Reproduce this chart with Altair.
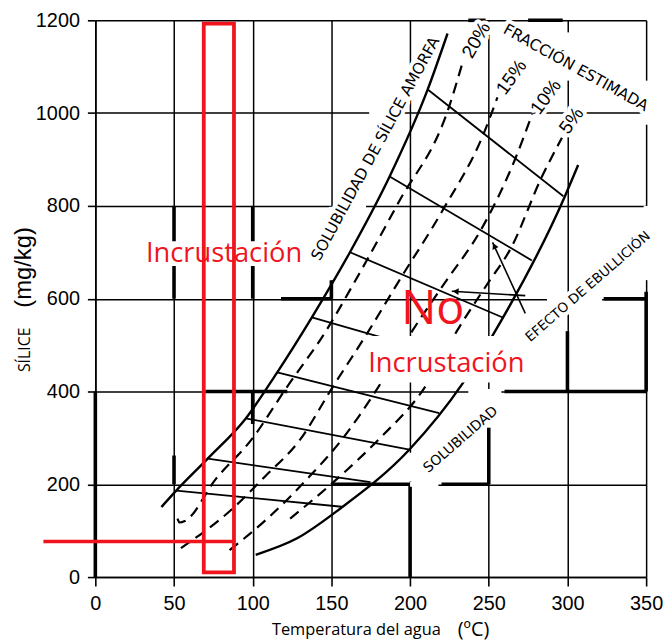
import altair as alt
import pandas as pd

# ---------------- data ----------------
X_TICKS = [0, 50, 100, 150, 200, 250, 300, 350]
Y_TICKS = [0, 200, 400, 600, 800, 1000, 1200]

# solubilidad de sílice amorfa (solid)
AMORPH_T = [42.0, 51.4, 71.4, 95.6, 115.6, 137.6, 161.8, 187.0, 211.2, 223.8]
AMORPH_S = [151.0, 186.3, 255.2, 342.0, 441.4, 559.9, 700.2, 863.3, 1051.0, 1171.6]

# solubilidad (cuarzo) (solid)
QUARTZ_T = [101.9, 128.2, 155.5, 199.6, 233.3, 252.2, 298.4, 306.8]
QUARTZ_S = [48.1, 83.6, 147.4, 274.9, 416.8, 519.5, 820.8, 888.0]

# fracción estimada (dashed)
F20_T = [52.2, 53.5, 56.9, 76.5, 99.2, 121.2, 146.5, 164.8, 192.5, 224.7, 233.0]
F20_S = [126.1, 117.6, 120.8, 211.1, 296.2, 406.8, 530.1, 636.4, 806.5, 1012.8, 1105.0]
F15_T = [54.4, 87.2, 108.0, 130.1, 150.3, 173.6, 192.6, 220.9, 246.7, 255.5]
F15_S = [62.3, 147.4, 217.5, 296.2, 406.8, 530.1, 636.4, 791.6, 955.4, 1034.0]
F10_T = [85.3, 109.3, 134.5, 156.6, 179.3, 201.3, 222.5, 244.8, 266.9, 277.6]
F10_S = [58.0, 126.1, 211.1, 296.2, 406.8, 530.1, 636.4, 747.0, 902.2, 997.9]
F5_T = [123.8, 153.4, 179.9, 208.9, 229.7, 250.0, 263.7, 283.9, 296.5]
F5_S = [126.1, 211.1, 296.2, 406.8, 530.1, 636.4, 706.6, 863.9, 946.8]

# connecting lines (from amorphous curve down to quartz curve)
CON_T0 = [51.4, 71.4, 95.6, 115.6, 137.6, 161.8, 187.0, 211.2]
CON_S0 = [186.3, 255.2, 342.0, 441.4, 559.9, 700.2, 863.3, 1051.0]
CON_T1 = [156.6, 174.8, 199.6, 218.5, 241.0, 258.5, 277.4, 297.4]
CON_S1 = [151.6, 204.8, 274.9, 353.6, 458.9, 559.9, 682.5, 820.8]

# efecto de ebullición arrows
ARR_T0 = [273.2, 273.2]
ARR_S0 = [568.4, 606.6]
ARR_T1 = [252.4, 226.5]
ARR_S1 = [721.5, 616.2]
ARR_HEAD_T = [253.5, 229.0]
ARR_HEAD_S = [713.8, 615.7]
ARR_HEAD_ANG = [335, 274]

# irregular grid of the scan: thick pieces and missing pieces
THICK_V_T = [0, 50, 50, 100, 100, 150, 200, 250, 300, 350]
THICK_V_S0 = [0, 600, 200, 600, 330, 600, 0, 200, 400, 400]
THICK_V_S1 = [400, 800, 262, 800, 400, 640, 200, 330, 530, 615]
THICK_H_S = [600, 600, 400, 400, 200, 200, 1200, 1200]
THICK_H_T0 = [118, 323, 70, 260, 150, 220, 237, 275]
THICK_H_T1 = [150, 350, 122, 350, 200, 250, 248, 297]
GAP_V_T = [150, 200, 250, 300, 350, 350]
GAP_V_S0 = [640, 206, 322, 1070, 975, 640]
GAP_V_S1 = [798, 268, 400, 1174, 1070, 800]
GAP_H_S = [800, 1000, 600, 400, 200]
GAP_H_T0 = [151, 174, 287, 237, 200]
GAP_H_T1 = [172, 196, 322, 258, 218]

# red annotations
RED_BOX_T = [68.9, 88.1]
RED_BOX_S = [10.2, 1192.9]
RED_LINE_S = 76.5
RED_LINE_T = [-33.0, 88.1]

RED = "#f0141e"

# ---------------- scales / axes ----------------
xs = alt.Scale(domain=[0, 350], nice=False, zero=False)
ys = alt.Scale(domain=[0, 1200], nice=False, zero=False)
common_axis = dict(grid=True, gridColor="black", gridWidth=1.5, gridOpacity=1,
                   domainColor="black", domainWidth=1.6, tickColor="black", tickWidth=1.6,
                   labelFont="Liberation Sans", labelFontSize=20, labelColor="black",
                   labelOverlap=False, title=None, format="d")
xax = alt.Axis(values=X_TICKS, tickSize=9, labelPadding=8, labelFlush=False, **common_axis)
yax = alt.Axis(values=Y_TICKS, tickSize=8, labelPadding=8, **common_axis)


def X(f):
    return alt.X(f, type="quantitative", scale=xs, axis=xax)


def Y(f):
    return alt.Y(f, type="quantitative", scale=ys, axis=yax)


layers = []

# thick grid pieces
thick_v = pd.DataFrame({"t": THICK_V_T, "s0": THICK_V_S0, "s1": THICK_V_S1})
layers.append(alt.Chart(thick_v).mark_rule(color="black", strokeWidth=3.6).encode(
    x=X("t"), y=Y("s0"), y2=alt.Y2("s1")))
thick_h = pd.DataFrame({"s": THICK_H_S, "t0": THICK_H_T0, "t1": THICK_H_T1})
layers.append(alt.Chart(thick_h).mark_rule(color="black", strokeWidth=3.6).encode(
    y=Y("s"), x=X("t0"), x2=alt.X2("t1")))

# missing grid pieces
gap_v = pd.DataFrame({"t": GAP_V_T, "s0": GAP_V_S0, "s1": GAP_V_S1})
layers.append(alt.Chart(gap_v).mark_rule(color="white", strokeWidth=5).encode(
    x=X("t"), y=Y("s0"), y2=alt.Y2("s1")))
gap_h = pd.DataFrame({"s": GAP_H_S, "t0": GAP_H_T0, "t1": GAP_H_T1})
layers.append(alt.Chart(gap_h).mark_rule(color="white", strokeWidth=5).encode(
    y=Y("s"), x=X("t0"), x2=alt.X2("t1")))

# labels
captions = pd.DataFrame({
    "label": ["SOLUBILIDAD DE SÍLICE AMORFA", "FRACCIÓN ESTIMADA", "EFECTO DE EBULLICIÓN", "SOLUBILIDAD"],
    "t": [178.0, 305.4, 313.1, 232.2],
    "s": [923.5, 1097.8, 625.8, 296.2],
    "ang": [298.5, 29, 319, 319],
    "size": [15.5, 15.5, 13.5, 14],
})
pcts = pd.DataFrame({
    "label": ["20%", "15%", "10%", "5%"],
    "t": [242.1, 264.4, 286.3, 302.6],
    "s": [1157.3, 1077.2, 1034.8, 983.6],
    "ang": [300, 306, 306, 306],
    "size": [19, 19, 19, 19],
})


def label_layer(df, font, halo):
    props = dict(font=font, align="center", baseline="middle")
    if halo:
        props.update(stroke="white", strokeWidth=8, strokeJoin="round", fill="white")
    else:
        props.update(fill="black")
    return alt.Chart(df).mark_text(**props).encode(
        x=X("t"), y=Y("s"), text="label:N",
        angle=alt.Angle("ang:Q", scale=None), size=alt.Size("size:Q", scale=None))


layers.append(label_layer(captions, "DejaVu Sans", True))
layers.append(label_layer(pcts, "Liberation Sans", True))

# curves
amorph = pd.DataFrame({"t": AMORPH_T, "s": AMORPH_S})
layers.append(alt.Chart(amorph).mark_line(color="black", strokeWidth=2.4, interpolate="monotone").encode(
    x=X("t"), y=Y("s")))
quartz = pd.DataFrame({"t": QUARTZ_T, "s": QUARTZ_S})
layers.append(alt.Chart(quartz).mark_line(color="black", strokeWidth=2.4, interpolate="monotone").encode(
    x=X("t"), y=Y("s")))

dashed_rows = []
for name, tt, ss in [("20%", F20_T, F20_S), ("15%", F15_T, F15_S), ("10%", F10_T, F10_S), ("5%", F5_T, F5_S)]:
    for i, (a, b) in enumerate(zip(tt, ss)):
        dashed_rows.append({"f": name, "t": a, "s": b, "i": i})
dashed = pd.DataFrame(dashed_rows)
layers.append(alt.Chart(dashed).mark_line(color="black", strokeWidth=2.2, strokeDash=[11, 7],
                                          interpolate="monotone").encode(
    x=X("t"), y=Y("s"), detail="f:N", order="i:Q"))

con = pd.DataFrame({"t0": CON_T0, "s0": CON_S0, "t1": CON_T1, "s1": CON_S1})
layers.append(alt.Chart(con).mark_rule(color="black", strokeWidth=1.8).encode(
    x=X("t0"), y=Y("s0"), x2=alt.X2("t1"), y2=alt.Y2("s1")))

arr = pd.DataFrame({"t0": ARR_T0, "s0": ARR_S0, "t1": ARR_T1, "s1": ARR_S1})
layers.append(alt.Chart(arr).mark_rule(color="black", strokeWidth=1.6).encode(
    x=X("t0"), y=Y("s0"), x2=alt.X2("t1"), y2=alt.Y2("s1")))
heads = pd.DataFrame({"t": ARR_HEAD_T, "s": ARR_HEAD_S, "ang": ARR_HEAD_ANG})
layers.append(alt.Chart(heads).mark_point(shape="triangle-up", filled=True, color="black",
                                          size=45, opacity=1).encode(
    x=X("t"), y=Y("s"), angle=alt.Angle("ang:Q", scale=None)))

# white boxes behind red "Incrustación" texts
boxes = pd.DataFrame({"t0": [30.5, 171.0], "t1": [133.2, 273.2],
                      "s0": [670.4, 419.5], "s1": [723.6, 519.5]})
layers.append(alt.Chart(boxes).mark_rect(color="white").encode(
    x=X("t0"), x2=alt.X2("t1"), y=Y("s0"), y2=alt.Y2("s1")))

# black labels
layers.append(label_layer(captions, "DejaVu Sans", False))
layers.append(label_layer(pcts, "Liberation Sans", False))

# red annotations
red_box = pd.DataFrame({"t0": [RED_BOX_T[0]], "t1": [RED_BOX_T[1]], "s0": [RED_BOX_S[0]], "s1": [RED_BOX_S[1]]})
layers.append(alt.Chart(red_box).mark_rect(fillOpacity=0, stroke=RED, strokeWidth=3.8).encode(
    x=X("t0"), x2=alt.X2("t1"), y=Y("s0"), y2=alt.Y2("s1")))
red_line = pd.DataFrame({"t0": [RED_LINE_T[0]], "t1": [RED_LINE_T[1]], "s": [RED_LINE_S]})
layers.append(alt.Chart(red_line).mark_rule(color=RED, strokeWidth=3.5).encode(
    x=X("t0"), x2=alt.X2("t1"), y=Y("s")))

red_txt = pd.DataFrame({"label": ["Incrustación", "No", "Incrustación"],
                        "t": [81.8, 214.4, 223.0], "s": [678.9, 545.0, 441.4],
                        "size": [27.5, 47, 27.5]})
layers.append(alt.Chart(red_txt).mark_text(font="Open Sans", color=RED, align="center",
                                           baseline="alphabetic").encode(
    x=X("t"), y=Y("s"), text="label:N", size=alt.Size("size:Q", scale=None)))

# axis titles (outside the plot area, pixel positions)
dummy = pd.DataFrame({"a": [0]})
layers.append(alt.Chart(dummy).mark_text(text="Temperatura del agua", font="Open Sans", fontSize=16.5,
                                         color="black", align="center", baseline="alphabetic").encode(
    x=alt.value(263), y=alt.value(619)))
layers.append(alt.Chart(dummy).mark_text(text="(ºC)", font="Open Sans", fontSize=20,
                                         color="black", align="center", baseline="alphabetic").encode(
    x=alt.value(381), y=alt.value(620)))
layers.append(alt.Chart(dummy).mark_text(text="SÍLICE", font="Open Sans", fontSize=16, angle=270,
                                         color="black", align="center", baseline="middle").encode(
    x=alt.value(-71), y=alt.value(332)))
layers.append(alt.Chart(dummy).mark_text(text="(mg/kg)", font="Liberation Sans", fontSize=24, angle=270,
                                         color="black", align="center", baseline="middle").encode(
    x=alt.value(-72), y=alt.value(249)))

chart = alt.layer(*layers).properties(
    width=555, height=561,
    autosize=alt.AutoSizeParams(type="none"),
    padding={"left": 88, "top": 10, "right": 18, "bottom": 62},
).configure_view(strokeWidth=0)

chart.save("out.html", embed_options={"renderer": "svg", "actions": False})
